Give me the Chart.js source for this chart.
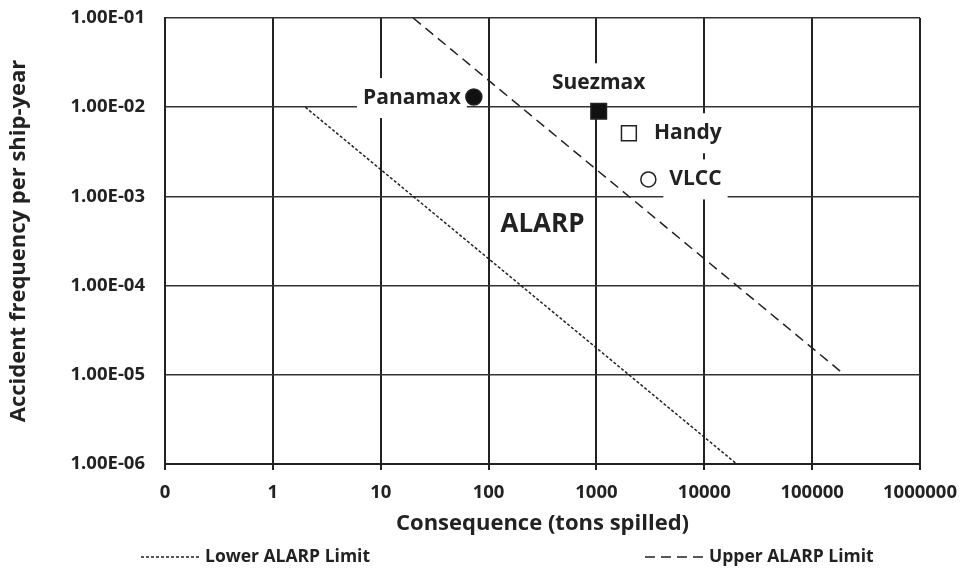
<!DOCTYPE html>
<html>
<head>
<meta charset="utf-8">
<script src="https://cdn.jsdelivr.net/npm/chart.js@4.4.1/dist/chart.umd.min.js"></script>
<style>
  html, body { margin: 0; padding: 0; background: #fff; }
  #wrap { width: 972px; height: 588px; position: relative; }
</style>
</head>
<body>
<div id="wrap"><canvas id="chart"></canvas></div>
<script>
// tick values and their labels
const xTickValues = [0.1, 1, 10, 100, 1000, 10000, 100000, 1000000];
const xTickLabels = ["0", "1", "10", "100", "1000", "10000", "100000", "1000000"];
const yTickValues = [1e-6, 1e-5, 1e-4, 1e-3, 1e-2, 1e-1];
const yTickLabels = ["1.00E-06", "1.00E-05", "1.00E-04", "1.00E-03", "1.00E-02", "1.00E-01"];

// ALARP limit lines (tons spilled, frequency)
const lowerLimitX = [2, 20000];
const lowerLimitY = [1e-2, 1e-6];
const upperLimitX = [20, 200000];
const upperLimitY = [1e-1, 1e-5];

// ship types
const shipNames = ["Panamax", "Suezmax", "Handy", "VLCC"];
const shipSpill = [73, 1050, 2000, 3030];
const shipFreq = [1.3e-2, 9.0e-3, 5.1e-3, 1.55e-3];

const FONT = "'Open Sans', Lato, sans-serif";
const INK = "#222";

const toPoints = (xs, ys) => xs.map((x, i) => ({ x: x, y: ys[i] }));

// white-boxed data labels next to each ship marker (drawn over grid, under marks)
const shipLabels = {
  id: "shipLabels",
  beforeDatasetsDraw(chart, args, opts) {
    const meta = chart.getDatasetMeta(2);
    const ctx = chart.ctx;
    ctx.save();
    ctx.font = "bold 21px " + FONT;
    ctx.textBaseline = "middle";
    meta.data.forEach((pt, i) => {
      const text = shipNames[i];
      const w = ctx.measureText(text).width;
      const side = opts.side[i];
      const gap = opts.gap[i];
      let left, cy;
      if (side === "left") {
        left = pt.x - gap - w;
        cy = pt.y + 1;
      } else if (side === "above") {
        left = pt.x - w / 2;
        cy = pt.y - gap;
      } else {
        left = pt.x + gap;
        cy = pt.y;
      }
      ctx.fillStyle = "#fff";
      ctx.fillRect(left - 6, cy - 20, w + 12, 40);
      ctx.fillStyle = INK;
      ctx.textAlign = "left";
      ctx.fillText(text, left, cy);
    });

    // region label
    const xs = chart.scales.x, ys = chart.scales.y;
    ctx.font = "bold 26px " + FONT;
    ctx.textAlign = "center";
    ctx.fillText("ALARP", xs.getPixelForValue(opts.alarpAt[0]), ys.getPixelForValue(opts.alarpAt[1]));
    ctx.restore();
  }
};

// legend row with line samples under the axis title
const lineLegend = {
  id: "lineLegend",
  afterDraw(chart, args, opts) {
    const ctx = chart.ctx;
    ctx.save();
    ctx.font = "bold 17.5px " + FONT;
    ctx.textBaseline = "middle";
    ctx.textAlign = "left";
    [0, 1].forEach((di, k) => {
      const ds = chart.data.datasets[di];
      const x0 = opts.starts[k];
      ctx.strokeStyle = ds.borderColor;
      ctx.lineWidth = ds.borderWidth;
      ctx.setLineDash(ds.borderDash);
      ctx.beginPath();
      ctx.moveTo(x0, opts.y);
      ctx.lineTo(x0 + opts.sample, opts.y);
      ctx.stroke();
      ctx.setLineDash([]);
      ctx.fillStyle = INK;
      ctx.fillText(ds.label, x0 + opts.sample + 6, opts.y);
    });
    ctx.restore();
  }
};

new Chart(document.getElementById("chart"), {
  type: "scatter",
  data: {
    datasets: [
      {
        label: "Lower ALARP Limit",
        data: toPoints(lowerLimitX, lowerLimitY),
        showLine: true,
        borderColor: INK,
        borderWidth: 1.5,
        borderDash: [3, 2],
        pointRadius: 0
      },
      {
        label: "Upper ALARP Limit",
        data: toPoints(upperLimitX, upperLimitY),
        showLine: true,
        borderColor: INK,
        borderWidth: 1.5,
        borderDash: [10, 6],
        pointRadius: 0
      },
      {
        label: "Ships",
        data: toPoints(shipSpill, shipFreq),
        pointStyle: ["circle", "rect", "rect", "circle"],
        pointRadius: [8, 11, 10.5, 7.5],
        backgroundColor: ["#111", "#111", "#fff", "#fff"],
        borderColor: INK,
        borderWidth: 1.5
      }
    ]
  },
  options: {
    responsive: true,
    maintainAspectRatio: false,
    animation: false,
    layout: { padding: { left: 0, right: 52, top: 18, bottom: 47 } },
    plugins: {
      legend: { display: false },
      tooltip: { enabled: false },
      shipLabels: {
        side: ["left", "above", "right", "right"],
        gap: [13, 28, 25, 21],
        alarpAt: [316, 4.8e-4]
      },
      lineLegend: { y: 557, starts: [141, 645], sample: 58 }
    },
    scales: {
      x: {
        type: "logarithmic",
        min: 0.1,
        max: 1000000,
        afterBuildTicks: (scale) => {
          scale.ticks = xTickValues.map((v) => ({ value: v }));
        },
        afterFit: (scale) => { scale.height = 77; },
        ticks: {
          autoSkip: false,
          maxRotation: 0,
          padding: 12,
          color: INK,
          font: { family: FONT, size: 18.5, weight: "bold" },
          callback: (value, index) => xTickLabels[index]
        },
        grid: { color: INK, lineWidth: 2, tickLength: 6, drawTicks: true },
        border: { color: INK, width: 2 },
        title: {
          display: true,
          text: "Consequence (tons spilled)",
          color: INK,
          font: { family: FONT, size: 22, weight: "bold" },
          padding: { top: 4, bottom: 4 }
        }
      },
      y: {
        type: "logarithmic",
        min: 1e-6,
        max: 1e-1,
        afterBuildTicks: (scale) => {
          scale.ticks = yTickValues.map((v) => ({ value: v }));
        },
        afterFit: (scale) => {
          scale.width = 165;
          scale.paddingTop = 0;
          scale.paddingBottom = 0;
        },
        ticks: {
          autoSkip: false,
          padding: 20,
          color: INK,
          font: { family: FONT, size: 18.5, weight: "bold" },
          callback: (value, index) => yTickLabels[index]
        },
        grid: { color: "#333", lineWidth: 1.5, drawTicks: false },
        border: { color: INK, width: 2 },
        title: {
          display: true,
          text: "Accident frequency per ship-year",
          color: INK,
          font: { family: FONT, size: 22, weight: "bold" },
          padding: { top: 6, bottom: 0 }
        }
      }
    }
  },
  plugins: [shipLabels, lineLegend]
});
</script>
</body>
</html>
